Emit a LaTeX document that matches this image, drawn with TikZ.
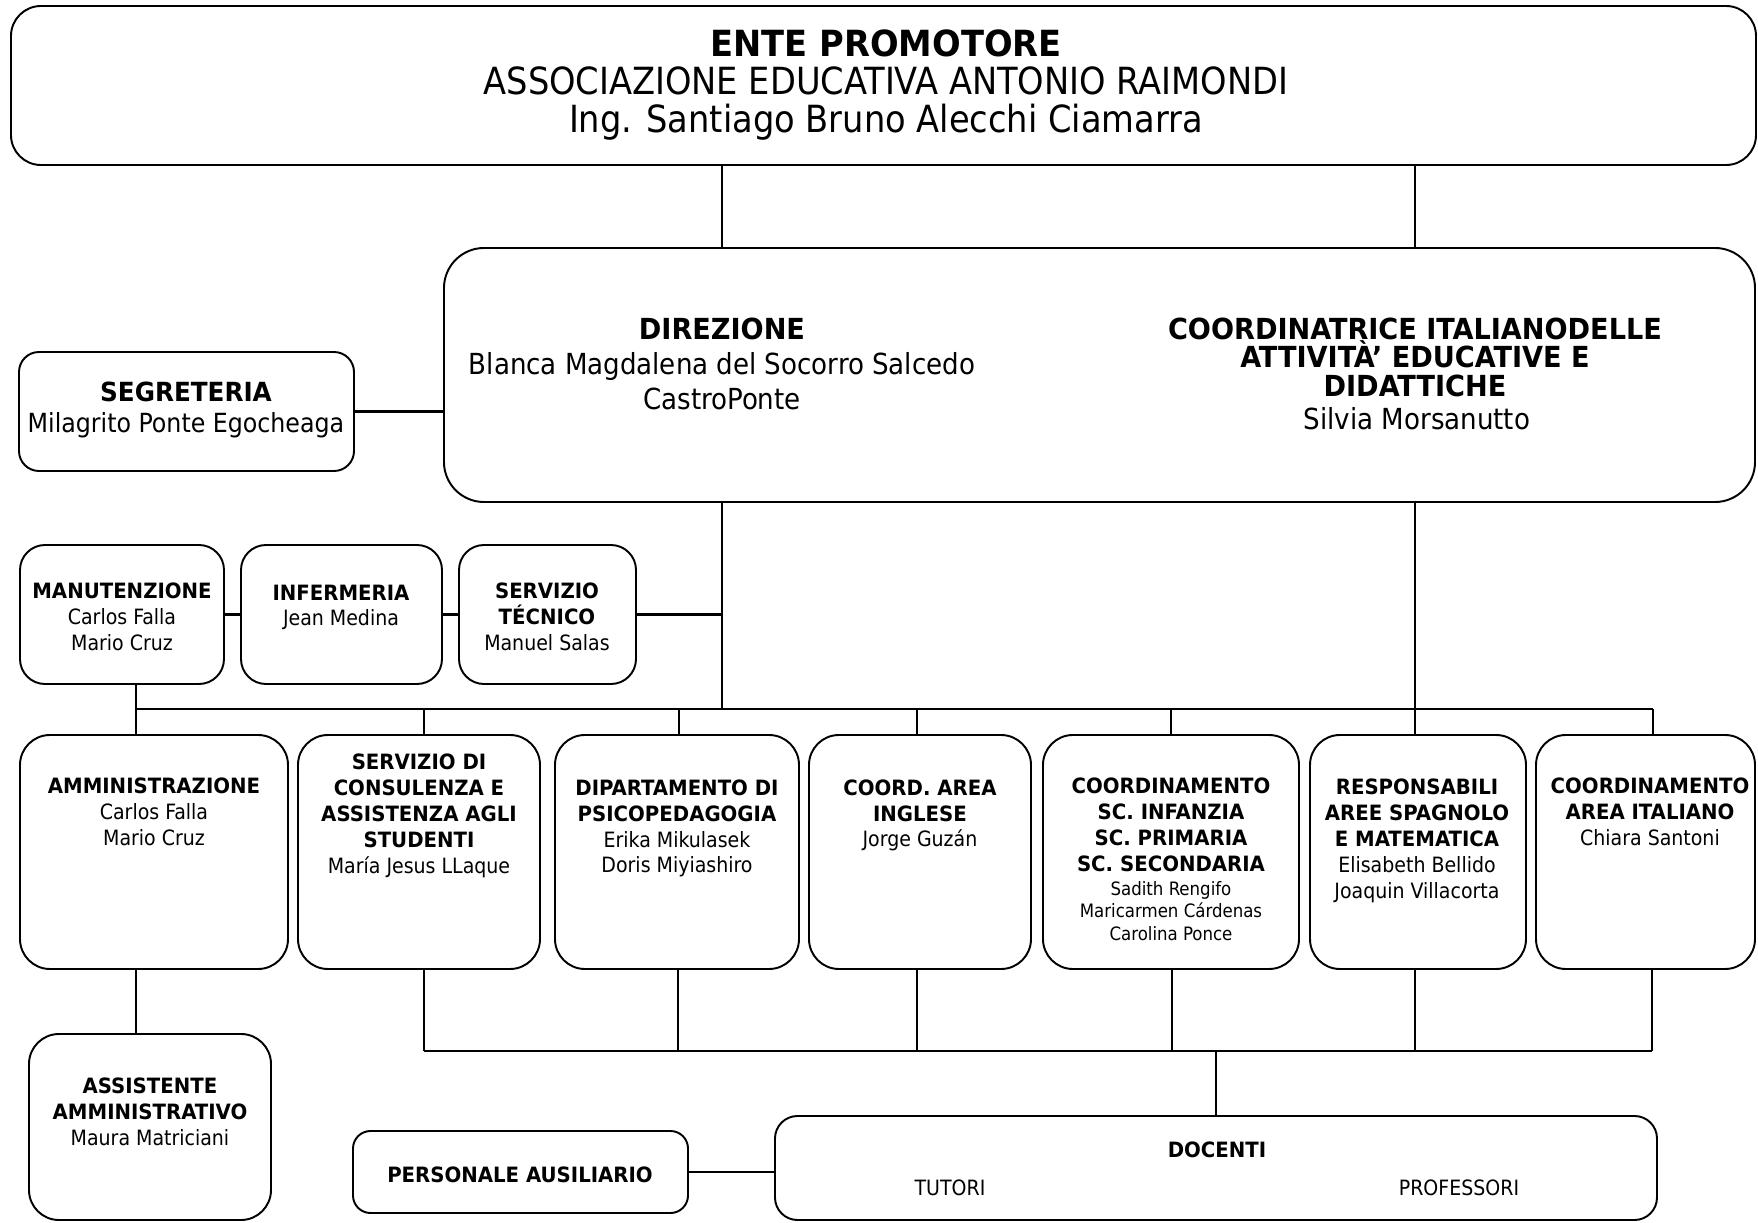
\documentclass[tikz,border=0pt]{standalone}
\usepackage{fontspec}
\setmainfont{DejaVu Sans Condensed}[BoldFeatures={FakeStretch=1.04}]

\begin{document}
\begin{tikzpicture}[
  x=0.2mm, y=-0.2mm,
  box/.style = {draw, line width=1.1pt, rounded corners=6mm, inner sep=0pt},
  lnk/.style = {line width=0.9pt},
  txt/.style = {align=center, inner sep=0pt, font=\fontsize{12}{14.7}\selectfont}
]
\useasboundingbox (0,0) rectangle (1758,1223);

% boxes
\node[box, minimum width=349mm, minimum height=31.8mm] (top) at (883.5,85.5) {};
\node[box, rounded corners=8mm, minimum width=262.2mm, minimum height=50.8mm] (dir) at (1099.5,375) {};
\node[box, rounded corners=4mm, minimum width=67mm, minimum height=23.8mm] (seg) at (186.5,411.5) {};
\node[box, rounded corners=5mm, minimum width=40.8mm, minimum height=27.8mm] (man) at (122,614.5) {};
\node[box, rounded corners=5mm, minimum width=40.2mm, minimum height=27.8mm] (inf) at (341.5,614.5) {};
\node[box, rounded corners=5mm, minimum width=35.4mm, minimum height=27.8mm] (tec) at (547.5,614.5) {};
\node[box, minimum width=53.6mm, minimum height=46.8mm] (amm) at (154,852) {};
\node[box, minimum width=48.4mm, minimum height=46.8mm] (srv) at (419,852) {};
\node[box, minimum width=48.8mm, minimum height=46.8mm] (dip) at (677,852) {};
\node[box, minimum width=44.4mm, minimum height=46.8mm] (ing) at (920,852) {};
\node[box, minimum width=51.2mm, minimum height=46.8mm] (sc) at (1171,852) {};
\node[box, minimum width=43.2mm, minimum height=46.8mm] (resp) at (1418,852) {};
\node[box, minimum width=43.8mm, minimum height=46.8mm] (ita) at (1645.5,852) {};
\node[box, minimum width=48.4mm, minimum height=37.2mm] (ass) at (150,1127) {};
\node[box, rounded corners=3.5mm, minimum width=67mm, minimum height=16.4mm] (aux) at (520.5,1172) {};
\node[box, rounded corners=4.5mm, minimum width=176.4mm, minimum height=20.8mm] (doc) at (1216,1168) {};

% texts
\node[txt, font=\fontsize{21.3}{21.5}\selectfont] (topL) at (886,85)
  {{\fontsize{20.5}{21.5}\selectfont\bfseries ENTE PROMOTORE}\\ASSOCIAZIONE EDUCATIVA ANTONIO RAIMONDI\\Ing. Santiago Bruno Alecchi Ciamarra};
\node[txt, font=\fontsize{16.5}{20}\selectfont] (dirL) at (722,364)
  {\textbf{DIREZIONE}\\Blanca Magdalena del Socorro Salcedo\\CastroPonte};
\node[txt, font=\bfseries\fontsize{16.5}{16.2}\selectfont] (coordL) at (1415,357)
  {COORDINATRICE ITALIANODELLE\\ATTIVITÀ’ EDUCATIVE E\\DIDATTICHE};
\node[txt, font=\fontsize{16.5}{19}\selectfont] (coordN) at (1417,419) {Silvia Morsanutto};
\node[txt, font=\fontsize{15}{18}\selectfont] (segL) at (186,410)
  {\textbf{SEGRETERIA}\\Milagrito Ponte Egocheaga};
\node[txt] (manL) at (122,617) {\textbf{MANUTENZIONE}\\Carlos Falla\\Mario Cruz};
\node[txt] (infL) at (341,607.5) {\textbf{INFERMERIA}\\Jean Medina};
\node[txt] (tecL) at (547,617) {\textbf{SERVIZIO}\\\textbf{TÉCNICO}\\Manuel Salas};
\node[txt] (ammL) at (154,812) {\textbf{AMMINISTRAZIONE}\\Carlos Falla\\Mario Cruz};
\node[txt] (srvL) at (419,816)
  {\textbf{SERVIZIO DI}\\\textbf{CONSULENZA E}\\\textbf{ASSISTENZA AGLI}\\\textbf{STUDENTI}\\María Jesus LLaque};
\node[txt] (dipL) at (677,828.5)
  {\textbf{DIPARTAMENTO DI}\\\textbf{PSICOPEDAGOGIA}\\Erika Mikulasek\\Doris Miyiashiro};
\node[txt] (ingL) at (920,815.5) {\textbf{COORD. AREA}\\\textbf{INGLESE}\\Jorge Guzán};
\node[txt, font=\bfseries\fontsize{12}{14.7}\selectfont] (scL) at (1171,825)
  {COORDINAMENTO\\SC. INFANZIA\\SC. PRIMARIA\\SC. SECONDARIA};
\node[txt, font=\fontsize{10.5}{12.6}\selectfont] (scN) at (1171,911)
  {Sadith Rengifo\\Maricarmen Cárdenas\\Carolina Ponce};
\node[txt] (respL) at (1417,841)
  {\textbf{RESPONSABILI}\\\textbf{AREE SPAGNOLO}\\\textbf{E MATEMATICA}\\Elisabeth Bellido\\Joaquin Villacorta};
\node[txt] (itaL) at (1650,812) {\textbf{COORDINAMENTO}\\\textbf{AREA ITALIANO}\\Chiara Santoni};
\node[txt] (assL) at (150,1112) {\textbf{ASSISTENTE}\\\textbf{AMMINISTRATIVO}\\Maura Matriciani};
\node[txt, font=\bfseries\fontsize{12}{14.7}\selectfont] (auxL) at (520,1175) {PERSONALE AUSILIARIO};
\node[txt, font=\bfseries\fontsize{12}{14.7}\selectfont] (docL) at (1217,1150) {DOCENTI};
\node[txt] (tutL) at (950,1188) {TUTORI};
\node[txt] (profL) at (1459,1188) {PROFESSORI};

% bus points
\coordinate (t1) at (136,709);
\coordinate (t2) at (424,709);
\coordinate (t3) at (679,709);
\coordinate (t4) at (917,709);
\coordinate (t5) at (1171,709);
\coordinate (t6) at (1415,709);
\coordinate (t7) at (1653,709);
\coordinate (b2) at (424,1051);
\coordinate (b3) at (678,1051);
\coordinate (b4) at (917,1051);
\coordinate (b5) at (1172,1051);
\coordinate (b6) at (1415,1051);
\coordinate (b7) at (1652,1051);

% connectors
\draw[lnk] (top.south -| dirL) -- (dir.north -| dirL);
\draw[lnk] (top.south -| t6) -- (dir.north -| t6);
\draw[lnk, line width=1.4pt] (seg.east) -- (seg.east -| dir.west);
\draw[lnk] (dir.south -| dirL) -- (t1 -| dirL);
\draw[lnk] (dir.south -| t6) -- (resp.north -| t6);
\draw[lnk, line width=1.2pt] (man.east) -- (inf.west);
\draw[lnk, line width=1.2pt] (inf.east) -- (tec.west);
\draw[lnk, line width=1.2pt] (tec.east) -- (tec.east -| dirL);
\draw[lnk, line width=1.2pt] (t1) -- (t7);
\draw[lnk] (man.south -| t1) -- (amm.north -| t1);
\draw[lnk] (t2) -- (srv.north -| t2);
\draw[lnk] (t3) -- (dip.north -| t3);
\draw[lnk] (t4) -- (ing.north -| t4);
\draw[lnk] (t5) -- (sc.north -| t5);
\draw[lnk] (t7) -- (ita.north -| t7);
\draw[lnk] (amm.south -| t1) -- (ass.north -| t1);
\foreach \b/\n in {b2/srv, b3/dip, b4/ing, b5/sc, b6/resp, b7/ita}
  \draw[lnk] (\n.south -| \b) -- (\b);
\draw[lnk, line width=1.6pt] (b2) -- (b7);
\draw[lnk] (b2 -| doc.north) -- (doc.north);
\draw[lnk, line width=1.4pt] (aux.east) -- (aux.east -| doc.west);
\end{tikzpicture}
\end{document}
